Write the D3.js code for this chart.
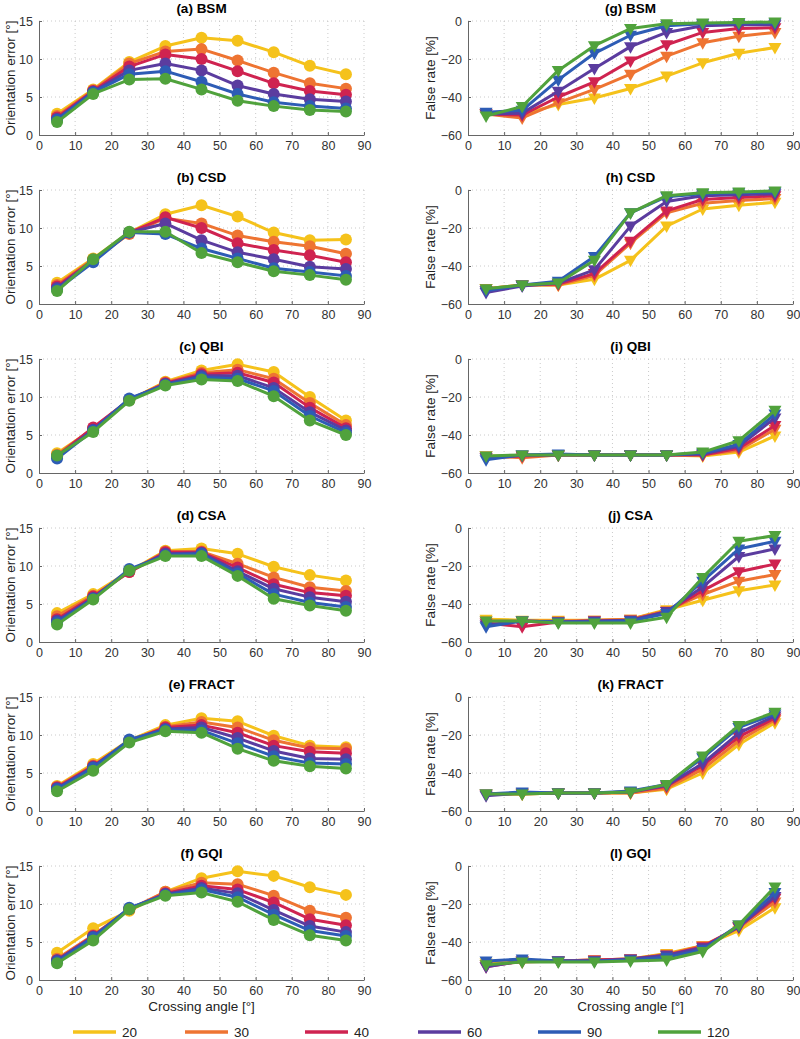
<!DOCTYPE html>
<html><head><meta charset="utf-8">
<script src="https://cdn.jsdelivr.net/npm/d3@7"></script>
<style>body{margin:0;background:#fff}svg{display:block;font-family:"Liberation Sans",Arial,sans-serif}</style>
</head><body><svg id="c" width="800" height="1039"></svg>
<script>
const angles = [5,15,25,35,45,55,65,75,85];
const seriesNames = ["20","30","40","60","90","120"];
const seriesColors = ["#F5C21B","#EE7432","#CF2350","#5B3C9F","#2D5CB5","#50A23C"];
const methods = ["BSM","CSD","QBI","CSA","FRACT","GQI"];
const errLetters = ["a","b","c","d","e","f"];
const fpLetters = ["g","h","i","j","k","l"];
const errTicks = [0,5,10,15];
const fpTicks = [-60,-40,-20,0];
const xTicks = [0,10,20,30,40,50,60,70,80,90];

// Orientation error [°], rows: 20,30,40,60,90,120
const bsmErr = [
 [2.8,6.0,9.6,11.7,12.8,12.4,10.9,9.1,8.0],
 [2.5,5.9,9.4,11.0,11.3,9.8,8.2,6.8,6.1],
 [2.3,5.8,9.0,10.6,10.0,8.4,6.8,5.8,5.3],
 [2.1,5.7,8.5,9.4,8.5,6.5,5.4,4.7,4.4],
 [2.0,5.6,8.0,8.4,7.0,5.4,4.3,3.8,3.5],
 [1.7,5.4,7.3,7.4,6.0,4.5,3.8,3.3,3.1]];
const csdErr = [
 [2.8,6.0,9.4,11.8,13.0,11.5,9.4,8.4,8.5],
 [2.5,5.9,9.2,11.3,10.6,9.0,8.2,7.6,6.6],
 [2.3,5.8,9.4,11.4,10.0,8.0,7.1,6.4,5.5],
 [2.1,5.7,9.4,10.6,8.4,6.8,5.9,4.9,4.6],
 [1.9,5.5,9.4,9.2,7.3,6.0,4.7,4.2,3.7],
 [1.7,5.9,9.5,9.5,6.7,5.5,4.3,3.8,3.2]];
const qbiErr = [
 [2.6,5.8,9.6,12.0,13.5,14.3,13.3,10.0,6.9],
 [2.4,5.9,9.6,11.9,13.2,13.6,12.4,9.2,6.3],
 [2.2,6.0,9.6,11.8,13.0,13.2,11.9,8.6,5.9],
 [2.1,5.7,9.7,11.7,12.8,12.8,11.2,8.0,5.6],
 [1.9,5.6,9.8,11.6,12.6,12.4,10.8,7.5,5.3],
 [2.3,5.4,9.5,11.5,12.3,12.1,10.1,6.9,5.0]];
const csaErr = [
 [3.8,6.3,9.3,12.0,12.3,11.6,9.9,8.8,8.1],
 [3.4,6.1,9.2,11.9,11.9,10.3,8.5,7.2,6.7],
 [3.0,6.0,9.2,11.8,11.8,9.8,7.6,6.5,6.1],
 [2.8,5.8,9.4,11.6,11.7,9.3,7.0,5.9,5.3],
 [2.6,5.7,9.6,11.4,11.6,9.0,6.3,5.2,4.6],
 [2.3,5.6,9.4,11.3,11.3,8.7,5.7,4.8,4.1]];
const fractErr = [
 [3.3,6.2,9.3,11.3,12.2,11.8,9.9,8.6,8.4],
 [3.2,6.0,9.2,11.1,11.7,11.0,9.3,8.3,8.2],
 [3.1,5.9,9.2,11.0,11.3,10.3,8.6,7.8,7.6],
 [3.0,5.8,9.3,10.8,11.0,9.6,7.9,6.9,6.8],
 [2.9,5.7,9.4,10.7,10.6,8.9,7.2,6.3,6.2],
 [2.6,5.3,9.0,10.5,10.3,8.2,6.6,5.9,5.6]];
const gqiErr = [
 [3.6,6.8,9.1,11.6,13.4,14.3,13.7,12.2,11.2],
 [2.8,5.9,9.3,11.6,12.8,12.6,11.1,9.1,8.2],
 [2.6,5.8,9.3,11.4,12.4,11.9,10.2,8.0,7.2],
 [2.6,5.7,9.4,11.3,12.1,11.4,9.2,7.1,6.3],
 [2.4,5.6,9.5,11.2,11.9,10.9,8.6,6.5,5.8],
 [2.2,5.2,9.3,11.1,11.5,10.3,7.9,5.9,5.2]];

// False rate [%], rows: 20,30,40,60,90,120
const bsmFp = [
 [-49,-49,-44,-40.5,-35.5,-29,-22,-17,-14],
 [-49,-51,-43,-36,-28,-18.5,-11.5,-8,-6],
 [-49,-49.5,-40,-32,-21,-12.5,-6,-4,-3.5],
 [-49,-48.5,-37,-25,-13.5,-6,-2.5,-2,-2],
 [-48,-47,-31,-17,-7.5,-2.5,-1.5,-1,-1],
 [-50,-45,-26,-13,-4,-1.5,-1,-0.8,-0.5]];
const csdFp = [
 [-52,-50,-50,-47,-37,-19,-10,-8,-6.5],
 [-52,-50,-50,-45,-28,-12,-7,-5.5,-4.5],
 [-53,-50,-49.5,-44,-27,-11,-5,-4,-3],
 [-54,-50.5,-49,-42,-19,-6,-3,-2.5,-2],
 [-53,-50,-48,-35,-12,-3.5,-2,-1.5,-1],
 [-52,-50,-49,-37,-12,-3,-1.5,-1,-0.5]];
const qbiFp = [
 [-51,-51,-50.5,-50.5,-50.5,-50.5,-51,-49,-40.5],
 [-51,-52,-50.5,-50.5,-50.5,-50.5,-50.5,-48,-37],
 [-52,-51,-50.5,-50.5,-50.5,-50.5,-50.5,-47,-35],
 [-52,-50.5,-50.5,-50.5,-50.5,-50.5,-50,-46,-31],
 [-53,-50.5,-50,-50.5,-50.5,-50.5,-49.5,-45,-29],
 [-51,-50.5,-50.5,-50.5,-50.5,-50.5,-49,-43,-27]];
const csaFp = [
 [-48,-48.5,-48.5,-48.5,-48,-43,-38,-33,-30],
 [-49,-49,-49,-48.5,-48,-43.5,-35,-28,-24.5],
 [-50,-52,-49.5,-49,-48.5,-44,-33,-23,-19],
 [-51,-49,-49.5,-49,-48.5,-44,-31,-15,-11],
 [-52,-49,-49.5,-49.5,-49,-45,-28,-11,-7],
 [-49,-49,-50,-50,-50,-47,-26,-7,-4]];
const fractFp = [
 [-51,-51,-50.5,-50.5,-50.5,-48.5,-40,-25,-13.5],
 [-51,-51,-50.5,-50.5,-50.5,-48,-38,-23,-12],
 [-51.5,-50.5,-50.5,-50.5,-50,-47,-36,-21,-11],
 [-52,-50.5,-50.5,-50.5,-50,-46.5,-35,-19,-10],
 [-51,-50,-50.5,-50.5,-49.5,-46,-32,-16,-9],
 [-51,-51,-50.5,-50.5,-50,-46,-31,-15,-8]];
const gqiFp = [
 [-51,-50,-50,-49.5,-49,-46,-42,-34,-22],
 [-52,-50.5,-50,-49.5,-49,-46.5,-42,-32.5,-19],
 [-53,-50,-50,-49.5,-49,-47,-42.5,-32,-17],
 [-53,-50,-50,-50,-49,-47,-43,-32,-16],
 [-50,-49,-50,-50,-49.5,-48,-44,-31,-14],
 [-52,-50.5,-50.5,-50.5,-50,-49.5,-45,-31,-11]];

const errData = [bsmErr,csdErr,qbiErr,csaErr,fractErr,gqiErr];
const fpData = [bsmFp,csdFp,qbiFp,csaFp,fractFp,gqiFp];

const svg = d3.select("#c");
const tops = [21,190,359,528,697,866];
const H = 114;
const cols = [{x0:39,x1:364},{x0:468,x1:793}];

function panel(col, row, data, domain, ticks, title, ylabel, marker){
  const c = cols[col], top = tops[row];
  const x = d3.scaleLinear().domain([0,90]).range([c.x0,c.x1]);
  const y = d3.scaleLinear().domain(domain).range([top+H, top]);
  const g = svg.append("g");
  g.selectAll(".gx").data(xTicks.slice(1)).join("line")
    .attr("x1",d=>x(d)).attr("x2",d=>x(d)).attr("y1",top).attr("y2",top+H)
    .attr("stroke","#bdbdbd").attr("stroke-width",0.8).attr("stroke-dasharray","1,3");
  g.selectAll(".gy").data(ticks.slice(1)).join("line")
    .attr("x1",c.x0).attr("x2",c.x1).attr("y1",d=>y(d)).attr("y2",d=>y(d))
    .attr("stroke","#bdbdbd").attr("stroke-width",0.8).attr("stroke-dasharray","1,3");
  const xa = g.append("g").attr("transform",`translate(0,${top+H})`)
    .call(d3.axisBottom(x).tickValues(xTicks).tickSizeInner(-3).tickSizeOuter(0).tickPadding(6));
  const ya = g.append("g").attr("transform",`translate(${c.x0},0)`)
    .call(d3.axisLeft(y).tickValues(ticks).tickSizeInner(-3).tickSizeOuter(0).tickPadding(6)
      .tickFormat(d=>d<0?"\u2212"+Math.abs(d):d));
  [xa,ya].forEach(a=>{
    a.select(".domain").attr("stroke","#666").attr("stroke-width",1);
    a.selectAll(".tick line").attr("stroke","#666");
    a.selectAll(".tick text").attr("font-size",12.5).attr("fill","#333")
      .attr("font-family",'"Liberation Sans",Arial,sans-serif');
  });
  g.append("text").attr("x",(c.x0+c.x1)/2).attr("y",top-8).attr("text-anchor","middle")
    .attr("font-weight","bold").attr("font-size",13.5).text(title);
  const lx = col===0 ? 10 : 430;
  g.append("text").attr("transform",`translate(${lx},${top+H/2}) rotate(-90)`)
    .attr("text-anchor","middle").attr("dy","0.35em").attr("font-size",13.5).attr("fill","#222").text(ylabel);
  if(row===5){
    g.append("text").attr("x",(c.x0+c.x1)/2).attr("y",top+H+31).attr("text-anchor","middle")
      .attr("font-size",13.5).attr("fill","#222").text("Crossing angle [\u00b0]");
  }
  const line = d3.line().x((d,i)=>x(angles[i])).y(d=>y(d));
  data.forEach((s,si)=>{
    const sg = g.append("g");
    sg.append("path").datum(s).attr("d",line).attr("fill","none")
      .attr("stroke",seriesColors[si]).attr("stroke-width",3).attr("stroke-linejoin","round");
    if(marker==="circle"){
      sg.selectAll("circle").data(s).join("circle")
        .attr("cx",(d,i)=>x(angles[i])).attr("cy",d=>y(d)).attr("r",6)
        .attr("fill",seriesColors[si]);
    } else {
      sg.selectAll("path.m").data(s).join("path").attr("class","m")
        .attr("d",(d,i)=>{const cx=x(angles[i]), cy=y(d);
          return `M${cx-6.5},${cy-4.5}L${cx+6.5},${cy-4.5}L${cx},${cy+7}Z`;})
        .attr("fill",seriesColors[si]);
    }
  });
}

methods.forEach((m,r)=>{
  panel(0,r,errData[r],[0,15],errTicks,`(${errLetters[r]}) ${m}`,"Orientation error [\u00b0]","circle");
  panel(1,r,fpData[r],[-60,0],fpTicks,`(${fpLetters[r]}) ${m}`,"False rate [%]","tri");
});

const legX = [73,185,305,418,538,658];
const leg = svg.append("g");
seriesNames.forEach((n,i)=>{
  leg.append("line").attr("x1",legX[i]).attr("x2",legX[i]+43).attr("y1",1032).attr("y2",1032)
    .attr("stroke",seriesColors[i]).attr("stroke-width",3.5);
  leg.append("text").attr("x",legX[i]+49).attr("y",1032).attr("dy","0.36em")
    .attr("font-size",13.5).attr("fill","#222").text(n);
});
</script></body></html>
